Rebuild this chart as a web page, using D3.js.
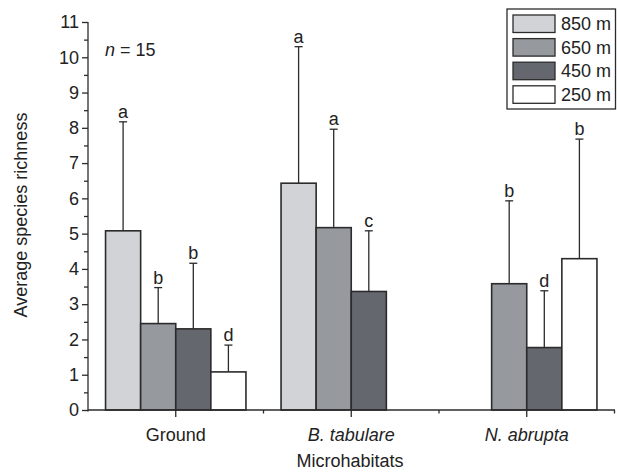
<!DOCTYPE html>
<html>
<head>
<meta charset="utf-8">
<script src="https://cdn.jsdelivr.net/npm/d3@7/dist/d3.min.js"></script>
<style>
  html, body { margin: 0; padding: 0; background: #fff; }
  svg { display: block; font-family: "Liberation Sans", Arial, Helvetica, sans-serif; }
</style>
</head>
<body>
<svg id="chart" width="617" height="472"></svg>
<script>
// ---- data ----
const categories = ["Ground", "B. tabulare", "N. abrupta"];
const series = ["850 m", "650 m", "450 m", "250 m"];
const means850 = [5.08, 6.43, null];
const means650 = [2.45, 5.17, 3.58];
const means450 = [2.30, 3.36, 1.77];
const means250 = [1.08, null, 4.29];
const upper850 = [8.17, 10.30, null];
const upper650 = [3.47, 7.96, 5.93];
const upper450 = [4.16, 5.08, 3.38];
const upper250 = [1.84, null, 7.68];
const letters850 = ["a", "a", null];
const letters650 = ["b", "a", "b"];
const letters450 = ["b", "c", "d"];
const letters250 = ["d", null, "b"];
const yTicks = [0, 1, 2, 3, 4, 5, 6, 7, 8, 9, 10, 11];
const yMinorTicks = [0.5, 1.5, 2.5, 3.5, 4.5, 5.5, 6.5, 7.5, 8.5, 9.5, 10.5];

const meansBySeries = [means850, means650, means450, means250];
const upperBySeries = [upper850, upper650, upper450, upper250];
const lettersBySeries = [letters850, letters650, letters450, letters250];
const colors = ["#d1d3d6", "#96999e", "#64676e", "#ffffff"];
const ink = "#2b2b2b";

const svg = d3.select("#chart");
const x0 = 88, x1 = 614.5, yBottom = 410, yTop = 22;

const x = d3.scaleBand().domain(categories).range([x0, x1]).paddingInner(0).paddingOuter(0);
const xs = d3.scaleBand().domain(series).range([0, x.bandwidth()]).paddingInner(0).paddingOuter(0.5);
const y = d3.scaleLinear().domain([0, 11]).range([yBottom, yTop]);

// flatten records
const records = [];
categories.forEach((c, ci) => {
  series.forEach((s, si) => {
    const m = meansBySeries[si][ci];
    if (m == null) return;
    records.push({ c, s, si, mean: m, up: upperBySeries[si][ci], letter: lettersBySeries[si][ci] });
  });
});

// bars
svg.append("g").selectAll("rect").data(records).join("rect")
  .attr("x", d => x(d.c) + xs(d.s))
  .attr("y", d => y(d.mean))
  .attr("width", xs.bandwidth())
  .attr("height", d => y(0) - y(d.mean))
  .attr("fill", d => colors[d.si])
  .attr("stroke", ink)
  .attr("stroke-width", 1.6);

// error bars
const eg = svg.append("g").attr("stroke", ink).attr("stroke-width", 1.3);
records.forEach(d => {
  const cx = x(d.c) + xs(d.s) + xs.bandwidth() / 2;
  eg.append("line").attr("x1", cx).attr("x2", cx).attr("y1", y(d.mean)).attr("y2", y(d.up));
  eg.append("line").attr("x1", cx - 4).attr("x2", cx + 4).attr("y1", y(d.up)).attr("y2", y(d.up));
});

// letters
svg.append("g").selectAll("text").data(records.filter(d => d.letter)).join("text")
  .attr("x", d => x(d.c) + xs(d.s) + xs.bandwidth() / 2)
  .attr("y", d => y(d.up) - 4)
  .attr("text-anchor", "middle")
  .attr("font-size", 18)
  .attr("fill", "#222")
  .text(d => d.letter);

// y axis
const yAxis = svg.append("g").attr("transform", `translate(${x0},0)`)
  .call(d3.axisLeft(y).tickValues(yTicks).tickSize(6).tickPadding(3).tickFormat(d3.format("d")));
yAxis.select(".domain").attr("d", `M0,${yBottom + 1.5}V${y(11)}`).attr("stroke", ink).attr("stroke-width", 1.3);
yAxis.selectAll(".tick line").attr("stroke", ink).attr("stroke-width", 1.3);
yAxis.selectAll(".tick text").attr("font-size", 18).attr("fill", "#222")
  .attr("font-family", "'Liberation Sans', Arial, sans-serif");
const yMinor = svg.append("g").attr("transform", `translate(${x0},0)`)
  .call(d3.axisLeft(y).tickValues(yMinorTicks).tickSize(4).tickFormat(""));
yMinor.select(".domain").remove();
yMinor.selectAll(".tick line").attr("stroke", ink).attr("stroke-width", 1.3);

// x axis
const xAxis = svg.append("g").attr("transform", `translate(0,${yBottom})`)
  .call(d3.axisBottom(x).tickSize(7).tickPadding(11));
xAxis.select(".domain").attr("d", `M${x0},0H${x1 + 0.5}`).attr("stroke", ink).attr("stroke-width", 1.3);
xAxis.selectAll(".tick line").attr("stroke", ink).attr("stroke-width", 1.3);
xAxis.selectAll(".tick text").attr("font-size", 18).attr("fill", "#222")
  .attr("font-family", "'Liberation Sans', Arial, sans-serif")
  .attr("font-style", d => d === "Ground" ? "normal" : "italic");
// boundary ticks
const bounds = categories.map(c => x(c) + x.bandwidth());
xAxis.append("g").selectAll("line").data(bounds).join("line")
  .attr("x1", d => d).attr("x2", d => d).attr("y1", 0).attr("y2", 3.5)
  .attr("stroke", ink).attr("stroke-width", 1.3);

// axis titles
svg.append("text").attr("x", 350).attr("y", 467).attr("text-anchor", "middle")
  .attr("font-size", 18).attr("fill", "#222").text("Microhabitats");
svg.append("text").attr("transform", `translate(27,215) rotate(-90)`).attr("text-anchor", "middle")
  .attr("font-size", 18).attr("fill", "#222").text("Average species richness");

// n = 15
const nt = svg.append("text").attr("x", 105).attr("y", 56).attr("font-size", 18).attr("fill", "#222");
nt.append("tspan").attr("font-style", "italic").text("n");
nt.append("tspan").text(" = 15");

// legend
const lg = svg.append("g");
lg.append("rect").attr("x", 507).attr("y", 9).attr("width", 108.5).attr("height", 100)
  .attr("fill", "#fff").attr("stroke", ink).attr("stroke-width", 1.3);
series.forEach((s, i) => {
  const yy = 15 + i * 23.6;
  lg.append("rect").attr("x", 513).attr("y", yy).attr("width", 42).attr("height", 17.5)
    .attr("fill", colors[i]).attr("stroke", ink).attr("stroke-width", 1.3);
  lg.append("text").attr("x", 561).attr("y", yy + 15).attr("font-size", 18).attr("fill", "#222").text(s);
});
</script>
</body>
</html>
